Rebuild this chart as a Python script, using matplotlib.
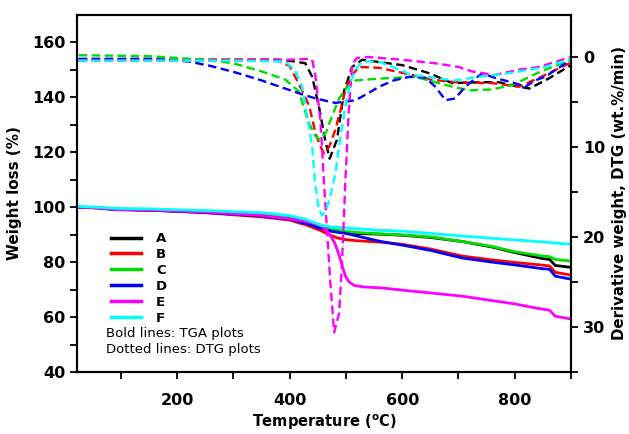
import matplotlib
matplotlib.use("Agg")
import matplotlib.pyplot as plt
from matplotlib.lines import Line2D
from matplotlib.ticker import FixedLocator

plt.rcParams['font.family'] = ['DejaVu Sans']
plt.rcParams['mathtext.fontset'] = 'dejavusans'

labels = ['A', 'B', 'C', 'D', 'E', 'F']
colors = ['#000000', '#ff0000', '#00dd00', '#0000ff', '#ff00ff', '#00ffff']

# ---- TGA (weight loss %, left axis) ----
tga_A_T = [25, 60, 90, 150, 250, 350, 400, 430, 455, 475, 495, 520, 560, 600, 650, 707, 760, 800, 850, 862, 872, 900]
tga_A_W = [100, 99.8, 99.2, 99.0, 98.3, 97.2, 96.0, 94.5, 92.8, 91.5, 90.8, 90.4, 90.2, 89.8, 89.0, 87.5, 85.5, 83.5, 81.3, 81.0, 78.8, 78.1]
tga_B_T = [25, 60, 90, 150, 250, 350, 400, 430, 455, 470, 485, 499, 520, 560, 600, 650, 707, 760, 800, 850, 862, 872, 900]
tga_B_W = [100, 99.8, 99.2, 99.0, 98.0, 96.5, 95.3, 93.5, 91.5, 90.0, 88.8, 88.2, 87.8, 87.3, 86.5, 84.8, 82.2, 80.8, 79.9, 78.9, 78.6, 76.3, 75.3]
tga_C_T = [25, 60, 90, 150, 250, 350, 400, 430, 455, 475, 495, 520, 560, 600, 650, 707, 760, 800, 850, 862, 872, 900]
tga_C_W = [100, 99.8, 99.3, 99.1, 98.4, 97.4, 96.3, 94.8, 93.2, 92.0, 91.3, 90.8, 90.3, 89.9, 89.2, 87.5, 85.7, 83.8, 82.2, 82.0, 81.0, 80.4]
tga_D_T = [25, 60, 90, 150, 250, 350, 400, 430, 455, 475, 499, 520, 560, 600, 650, 707, 760, 800, 850, 862, 872, 900]
tga_D_W = [100, 99.7, 99.1, 98.9, 98.1, 96.8, 95.6, 94.0, 92.3, 91.2, 90.5, 89.5, 87.6, 86.2, 84.3, 81.5, 80.0, 79.0, 77.6, 77.4, 74.9, 73.8]
tga_E_T = [25, 60, 90, 150, 250, 350, 400, 430, 455, 470, 480, 488, 495, 500, 506, 515, 530, 564, 600, 650, 707, 760, 800, 840, 862, 872, 900]
tga_E_W = [100, 99.8, 99.2, 99.0, 98.3, 97.0, 95.8, 94.8, 93.5, 90.5, 87.0, 82.5, 77.5, 74.5, 72.7, 71.5, 71.0, 70.6, 69.8, 68.8, 67.6, 66.0, 64.8, 63.2, 62.5, 60.3, 59.3]
tga_F_T = [25, 60, 90, 150, 250, 350, 400, 430, 455, 475, 499, 560, 600, 707, 800, 854, 900]
tga_F_W = [100.3, 100.0, 99.6, 99.4, 98.8, 98.0, 97.0, 95.5, 93.5, 92.8, 92.5, 91.6, 91.3, 89.5, 88.1, 87.3, 86.5]

# ---- DTG (derivative weight, right axis) ----
dtg_A_T = [25, 100, 200, 300, 380, 410, 428, 440, 452, 463, 471, 484, 497, 511, 529, 552, 600, 648, 689, 740, 772, 800, 826, 860, 900]
dtg_A_D = [0.3, 0.3, 0.3, 0.3, 0.3, 0.5, 0.7, 2.2, 5.5, 9.2, 11.3, 9.2, 3.7, 1.1, 0.3, 0.5, 0.9, 1.8, 2.9, 2.8, 2.8, 3.2, 3.5, 2.4, 0.9]
dtg_B_T = [25, 200, 300, 375, 400, 422, 435, 446, 455, 461, 470, 481, 490, 499, 511, 523, 559, 618, 650, 694, 760, 808, 854, 900]
dtg_B_D = [0.3, 0.3, 0.3, 0.3, 1.0, 3.7, 5.5, 8.5, 10.0, 10.7, 10.0, 8.1, 6.0, 3.7, 2.0, 1.1, 1.2, 2.0, 2.5, 2.8, 2.9, 3.3, 2.0, 0.6]
dtg_C_T = [25, 150, 250, 300, 350, 392, 416, 434, 446, 454, 465, 475, 488, 500, 517, 559, 623, 689, 720, 760, 796, 843, 900]
dtg_C_D = [-0.2, -0.1, 0.3, 0.7, 1.6, 2.5, 3.8, 7.3, 8.8, 9.2, 8.3, 6.6, 4.6, 3.5, 2.6, 2.4, 2.2, 3.3, 3.7, 3.6, 3.1, 1.7, 0.3]
dtg_D_T = [25, 150, 221, 260, 303, 350, 392, 420, 446, 481, 517, 540, 559, 585, 612, 641, 659, 677, 694, 712, 742, 764, 800, 819, 836, 854, 900]
dtg_D_D = [0.2, 0.2, 0.5, 1.0, 1.7, 2.6, 3.5, 4.1, 4.6, 5.1, 4.8, 4.0, 3.3, 2.6, 2.2, 2.3, 3.3, 4.8, 4.6, 3.3, 1.8, 2.3, 2.9, 3.3, 2.6, 2.2, 0.3]
dtg_E_T = [25, 200, 300, 400, 435, 440, 446, 455, 461, 472, 479, 488, 493, 499, 505, 511, 520, 540, 600, 659, 700, 724, 764, 808, 843, 900]
dtg_E_D = [0.4, 0.4, 0.4, 0.3, 0.2, 0.3, 2.2, 7.3, 14.0, 24.8, 30.6, 28.4, 22.9, 13.7, 6.0, 0.8, 0.1, 0.0, 0.3, 0.7, 1.1, 1.6, 2.0, 1.4, 1.1, 0.0]
dtg_F_T = [25, 200, 300, 392, 410, 422, 435, 440, 445, 452, 458, 465, 472, 481, 490, 499, 508, 517, 529, 559, 618, 694, 736, 790, 854, 900]
dtg_F_D = [0.4, 0.4, 0.4, 0.5, 1.5, 3.3, 8.0, 10.0, 14.0, 17.0, 17.6, 17.0, 15.5, 13.0, 9.0, 5.5, 2.8, 1.4, 0.5, 0.5, 2.0, 2.6, 2.2, 1.8, 1.1, 0.2]

tga = [(tga_A_T, tga_A_W), (tga_B_T, tga_B_W), (tga_C_T, tga_C_W),
       (tga_D_T, tga_D_W), (tga_E_T, tga_E_W), (tga_F_T, tga_F_W)]
dtg = [(dtg_A_T, dtg_A_D), (dtg_B_T, dtg_B_D), (dtg_C_T, dtg_C_D),
       (dtg_D_T, dtg_D_D), (dtg_E_T, dtg_E_D), (dtg_F_T, dtg_F_D)]

fig = plt.figure(figsize=(6.29, 4.34), dpi=100)
ax = fig.add_axes([77/629, 1-372/434, (571-77)/629, (372-15)/434])
ax2 = ax.twinx()

for (t, w), c in zip(tga, colors):
    ax.plot(t, w, color=c, lw=2.0, solid_joinstyle='round')
for (t, d), c in zip(dtg, colors):
    ax2.plot(t, d, color=c, lw=1.7, linestyle=(0, (3.6, 1.9)))

ax.set_xlim(22, 900)
ax.set_ylim(40, 170)
ax2.set_ylim(35, -4.67)

ax.xaxis.set_major_locator(FixedLocator([200, 400, 600, 800]))
ax.xaxis.set_minor_locator(FixedLocator([100, 300, 500, 700, 900]))
ax.yaxis.set_major_locator(FixedLocator([40, 60, 80, 100, 120, 140, 160]))
ax.yaxis.set_minor_locator(FixedLocator([50, 70, 90, 110, 130, 150]))
ax2.yaxis.set_major_locator(FixedLocator([0, 10, 20, 30]))
ax2.yaxis.set_minor_locator(FixedLocator([5, 15, 25, 35]))

for a in (ax, ax2):
    a.tick_params(which='both', direction='out', length=5, width=1.3)
    for s in a.spines.values():
        s.set_linewidth(1.5)
ax.tick_params(axis='both', labelsize=11.5)
ax2.tick_params(axis='y', labelsize=11.5)
for lab in ax.get_xticklabels() + ax.get_yticklabels() + ax2.get_yticklabels():
    lab.set_fontweight('bold')
ax.tick_params(axis='x', pad=10)

ax.set_xlabel(r'Temperature ($\mathbf{^{o}}$C)', fontsize=10.5, fontweight='bold', labelpad=3)
ax.set_ylabel('Weight loss (%)', fontsize=11, fontweight='bold', labelpad=7)
ax2.set_ylabel('Derivative weight, DTG (wt.%/min)', fontsize=10.8, fontweight='bold', labelpad=5)

handles = [Line2D([], [], color=c, lw=2.5) for c in colors]
leg = ax.legend(handles, labels, loc='upper left', bbox_to_anchor=(0.045, 0.425),
                frameon=False, handlelength=2.3, handletextpad=1.1,
                labelspacing=0.22, prop={'weight': 'bold', 'size': 9.5})

ax.text(0.059, 0.109, 'Bold lines: TGA plots', transform=ax.transAxes,
        fontsize=9.5, va='center', ha='left')
ax.text(0.059, 0.062, 'Dotted lines: DTG plots', transform=ax.transAxes,
        fontsize=9.5, va='center', ha='left')

fig.savefig('out.png', dpi=100)
